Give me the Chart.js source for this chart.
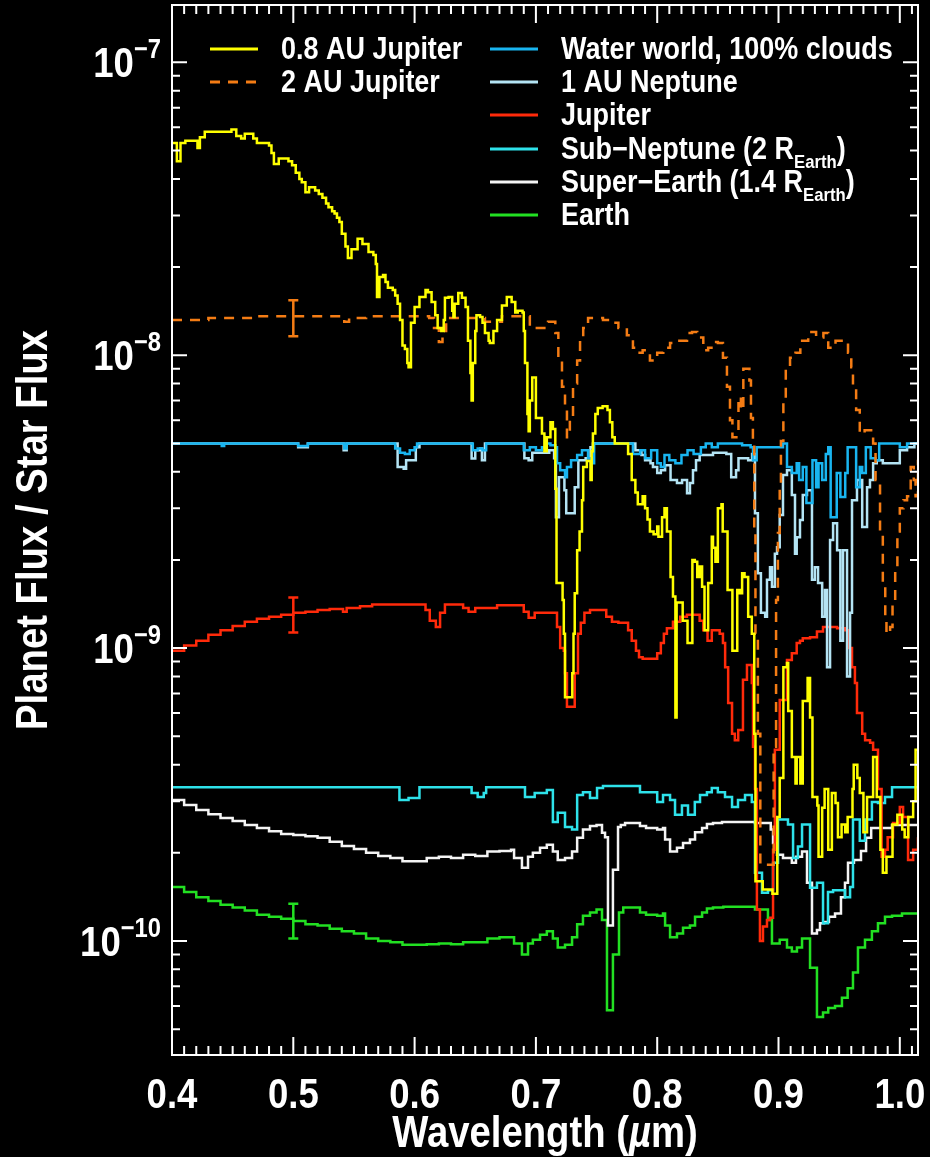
<!DOCTYPE html>
<html>
<head>
<meta charset="utf-8">
<script src="https://cdn.jsdelivr.net/npm/chart.js@4.4.1/dist/chart.umd.min.js"></script>
<style>
  html, body { margin: 0; padding: 0; background: #000; }
  canvas { display: block; }
</style>
</head>
<body>
<canvas id="spectra" width="930" height="1157"></canvas>
<script>
// [wavelength (um), planet flux / star flux]
const jupiter08 = [[0.400,5.3e-8],[0.404,4.6e-8],[0.407,5.3e-8],[0.411,5.4e-8],[0.419,5.4e-8],[0.421,5.1e-8],[0.423,5.55e-8],[0.427,5.8e-8],[0.449,5.9e-8],[0.453,5.6e-8],[0.457,5.5e-8],[0.460,5.7e-8],[0.467,5.5e-8],[0.470,5.3e-8],[0.480,5.2e-8],[0.482,4.9e-8],[0.484,4.5e-8],[0.488,4.7e-8],[0.496,4.6e-8],[0.499,4.45e-8],[0.502,4.2e-8],[0.505,4.0e-8],[0.507,3.9e-8],[0.510,3.6e-8],[0.513,3.75e-8],[0.518,3.65e-8],[0.521,3.55e-8],[0.524,3.45e-8],[0.527,3.3e-8],[0.529,3.2e-8],[0.532,3.1e-8],[0.534,3.05e-8],[0.536,2.95e-8],[0.538,2.85e-8],[0.540,2.6e-8],[0.543,2.35e-8],[0.545,2.15e-8],[0.548,2.3e-8],[0.553,2.5e-8],[0.557,2.4e-8],[0.562,2.25e-8],[0.566,2.2e-8],[0.568,2.05e-8],[0.569,1.58e-8],[0.571,1.85e-8],[0.574,1.88e-8],[0.576,1.78e-8],[0.578,1.7e-8],[0.582,1.67e-8],[0.584,1.6e-8],[0.586,1.5e-8],[0.588,1.32e-8],[0.590,1.08e-8],[0.592,1.05e-8],[0.594,9.4e-9],[0.595,9.1e-9],[0.597,1.29e-8],[0.600,1.46e-8],[0.604,1.58e-8],[0.609,1.67e-8],[0.611,1.64e-8],[0.614,1.52e-8],[0.617,1.37e-8],[0.619,1.24e-8],[0.622,1.21e-8],[0.624,1.32e-8],[0.625,1.57e-8],[0.628,1.58e-8],[0.631,1.42e-8],[0.632,1.35e-8],[0.633,1.5e-8],[0.636,1.63e-8],[0.639,1.57e-8],[0.642,1.46e-8],[0.644,1.12e-8],[0.646,8.7e-9],[0.647,7.0e-9],[0.648,9.4e-9],[0.650,1.21e-8],[0.651,1.37e-8],[0.654,1.35e-8],[0.656,1.29e-8],[0.658,1.19e-8],[0.661,1.12e-8],[0.662,1.1e-8],[0.665,1.21e-8],[0.668,1.32e-8],[0.672,1.48e-8],[0.676,1.58e-8],[0.680,1.52e-8],[0.683,1.4e-8],[0.685,1.42e-8],[0.689,1.4e-8],[0.690,1.21e-8],[0.691,9.4e-9],[0.693,6.3e-9],[0.694,5.5e-9],[0.695,7.0e-9],[0.697,8.4e-9],[0.700,6.1e-9],[0.705,5.4e-9],[0.707,4.7e-9],[0.709,5.25e-9],[0.712,5.9e-9],[0.714,5.6e-9],[0.716,3.5e-9],[0.717,1.67e-9],[0.722,1.46e-9],[0.723,1.12e-9],[0.724,6.8e-10],[0.730,8.2e-10],[0.731,1.12e-9],[0.732,1.54e-9],[0.734,2.16e-9],[0.736,2.5e-9],[0.738,3.2e-9],[0.739,4.15e-9],[0.742,4.35e-9],[0.745,3.75e-9],[0.746,4.7e-9],[0.747,5.4e-9],[0.749,6.3e-9],[0.751,6.6e-9],[0.755,6.7e-9],[0.759,6.5e-9],[0.761,5.9e-9],[0.763,5.25e-9],[0.765,5.0e-9],[0.776,4.6e-9],[0.779,3.75e-9],[0.782,3.4e-9],[0.784,3.1e-9],[0.788,3.3e-9],[0.790,3.0e-9],[0.792,2.75e-9],[0.794,2.5e-9],[0.797,2.45e-9],[0.800,2.6e-9],[0.801,2.4e-9],[0.804,2.8e-9],[0.806,3.0e-9],[0.808,2.5e-9],[0.811,1.75e-9],[0.813,1.5e-9],[0.815,5.8e-10],[0.816,1.43e-9],[0.821,1.24e-9],[0.825,1.04e-9],[0.829,2.0e-9],[0.831,1.97e-9],[0.833,1.75e-9],[0.835,1.9e-9],[0.837,1.62e-9],[0.839,1.15e-9],[0.842,1.67e-9],[0.845,2.4e-9],[0.846,2.2e-9],[0.848,1.97e-9],[0.850,3.0e-9],[0.853,3.1e-9],[0.854,2.5e-9],[0.858,1.58e-9],[0.862,9.8e-10],[0.866,1.58e-9],[0.868,1.54e-9],[0.870,1.8e-9],[0.872,1.75e-9],[0.875,1.28e-9],[0.878,1.12e-9],[0.880,5.1e-10],[0.881,1.6e-10],[0.887,1.5e-10],[0.895,1.45e-10],[0.899,2.65e-10],[0.901,3.6e-10],[0.904,8.6e-10],[0.907,8.9e-10],[0.908,6.1e-10],[0.911,4.25e-10],[0.914,3.45e-10],[0.915,4.25e-10],[0.918,3.45e-10],[0.920,6.6e-10],[0.924,7.9e-10],[0.926,5.8e-10],[0.928,3.1e-10],[0.932,2.9e-10],[0.933,1.94e-10],[0.936,2.85e-10],[0.938,3.3e-10],[0.941,2.05e-10],[0.944,3.2e-10],[0.947,2.96e-10],[0.949,2.26e-10],[0.952,2.5e-10],[0.955,2.35e-10],[0.957,2.65e-10],[0.961,3.3e-10],[0.962,4.0e-10],[0.965,3.6e-10],[0.967,3.2e-10],[0.970,2.35e-10],[0.973,3.1e-10],[0.978,4.25e-10],[0.981,3.1e-10],[0.984,2.05e-10],[0.986,1.71e-10],[0.989,1.94e-10],[0.994,2.5e-10],[0.998,2.7e-10],[1.002,2.4e-10],[1.004,2.26e-10],[1.007,2.65e-10],[1.011,3.0e-10],[1.013,4.5e-10],[1.015,4.5e-10]];

const jupiter2 = [[0.400,1.32e-8],[0.430,1.34e-8],[0.470,1.36e-8],[0.542,1.3e-8],[0.546,1.34e-8],[0.560,1.36e-8],[0.612,1.34e-8],[0.616,1.24e-8],[0.620,1.11e-8],[0.623,1.21e-8],[0.626,1.34e-8],[0.658,1.3e-8],[0.668,1.3e-8],[0.672,1.36e-8],[0.690,1.36e-8],[0.695,1.24e-8],[0.700,1.24e-8],[0.710,1.3e-8],[0.716,1.19e-8],[0.7185,9.8e-9],[0.7215,7.8e-9],[0.724,6.5e-9],[0.7256,5.25e-9],[0.728,6.1e-9],[0.7306,8.0e-9],[0.734,9.6e-9],[0.7364,1.12e-8],[0.739,1.24e-8],[0.743,1.34e-8],[0.752,1.34e-8],[0.7553,1.32e-8],[0.761,1.29e-8],[0.768,1.24e-8],[0.775,1.17e-8],[0.780,1.06e-8],[0.784,1.02e-8],[0.788,1.04e-8],[0.794,9.6e-9],[0.800,1.02e-8],[0.805,1.06e-8],[0.8106,1.1e-8],[0.8163,1.12e-8],[0.8246,1.19e-8],[0.8287,1.2e-8],[0.833,1.15e-8],[0.838,1.04e-8],[0.842,1.06e-8],[0.846,1.11e-8],[0.850,1.1e-8],[0.8542,9.8e-9],[0.8575,7.8e-9],[0.860,6.0e-9],[0.862,5.25e-9],[0.865,5.25e-9],[0.867,7.2e-9],[0.869,6.5e-9],[0.871,9.0e-9],[0.874,9.0e-9],[0.876,8.2e-9],[0.8773,6.1e-9],[0.8789,5.0e-9],[0.880,2.47e-9],[0.881,1.12e-9],[0.883,5.1e-10],[0.885,1.82e-10],[0.894,1.82e-10],[0.896,4.6e-10],[0.898,1.46e-9],[0.8995,2.47e-9],[0.901,3.5e-9],[0.902,5.1e-9],[0.904,6.9e-9],[0.906,9.1e-9],[0.9095,9.8e-9],[0.914,1.02e-8],[0.918,1.12e-8],[0.9245,1.2e-8],[0.931,1.15e-8],[0.937,1.19e-8],[0.941,1.06e-8],[0.947,1.12e-8],[0.952,1.1e-8],[0.9573,1.02e-8],[0.960,9.1e-9],[0.9614,7.8e-9],[0.964,6.5e-9],[0.967,5.4e-9],[0.971,5.55e-9],[0.9755,5.55e-9],[0.978,5.0e-9],[0.980,3.75e-9],[0.9837,2.47e-9],[0.986,1.67e-9],[0.988,1.24e-9],[0.989,1.12e-9],[0.992,1.18e-9],[0.994,1.43e-9],[0.9962,1.9e-9],[0.998,2.5e-9],[1.000,3.0e-9],[1.003,3.2e-9],[1.006,3.3e-9],[1.009,4.15e-9],[1.0115,3.75e-9],[1.013,3.3e-9],[1.015,4.4e-9]];

const waterWorld = [[0.400,5.0e-9],[0.440,5.0e-9],[0.441,4.9e-9],[0.443,5.0e-9],[0.502,5.0e-9],[0.504,4.9e-9],[0.510,4.9e-9],[0.512,5.0e-9],[0.541,5.0e-9],[0.542,4.8e-9],[0.544,5.0e-9],[0.582,5.0e-9],[0.584,4.8e-9],[0.588,4.65e-9],[0.592,4.6e-9],[0.596,4.74e-9],[0.600,4.85e-9],[0.602,5.0e-9],[0.645,5.0e-9],[0.648,4.74e-9],[0.652,4.8e-9],[0.656,4.74e-9],[0.659,5.0e-9],[0.688,5.0e-9],[0.690,4.74e-9],[0.695,4.85e-9],[0.700,4.74e-9],[0.705,4.85e-9],[0.708,5.0e-9],[0.712,4.93e-9],[0.716,4.85e-9],[0.7174,4.28e-9],[0.720,4.05e-9],[0.724,3.83e-9],[0.7256,4.15e-9],[0.729,4.38e-9],[0.734,4.56e-9],[0.738,4.74e-9],[0.743,4.45e-9],[0.746,4.28e-9],[0.748,5.0e-9],[0.777,5.0e-9],[0.780,4.6e-9],[0.786,4.74e-9],[0.790,4.45e-9],[0.795,4.74e-9],[0.800,4.28e-9],[0.803,4.15e-9],[0.806,4.56e-9],[0.810,4.38e-9],[0.815,4.28e-9],[0.820,4.56e-9],[0.825,4.74e-9],[0.830,4.6e-9],[0.836,4.85e-9],[0.840,5.0e-9],[0.845,4.85e-9],[0.850,5.0e-9],[0.870,4.93e-9],[0.877,4.85e-9],[0.879,4.38e-9],[0.882,4.85e-9],[0.9037,5.0e-9],[0.907,4.15e-9],[0.911,3.96e-9],[0.915,4.28e-9],[0.917,3.75e-9],[0.920,4.15e-9],[0.923,3.13e-9],[0.926,3.13e-9],[0.928,4.38e-9],[0.931,3.54e-9],[0.933,4.28e-9],[0.936,3.75e-9],[0.939,4.6e-9],[0.941,4.85e-9],[0.943,2.8e-9],[0.946,2.8e-9],[0.948,3.96e-9],[0.951,3.28e-9],[0.955,3.96e-9],[0.957,4.85e-9],[0.962,4.85e-9],[0.964,3.54e-9],[0.967,4.15e-9],[0.969,3.96e-9],[0.972,4.85e-9],[0.976,4.45e-9],[0.980,4.38e-9],[0.983,5.0e-9],[0.998,5.0e-9],[1.000,4.85e-9],[1.004,4.85e-9],[1.006,5.0e-9],[1.015,5.0e-9]];

const neptune1 = [[0.400,5.0e-9],[0.502,5.0e-9],[0.504,4.85e-9],[0.510,4.85e-9],[0.512,5.0e-9],[0.540,5.0e-9],[0.5415,4.74e-9],[0.544,5.0e-9],[0.584,5.0e-9],[0.586,4.15e-9],[0.591,4.1e-9],[0.593,4.38e-9],[0.599,4.38e-9],[0.601,4.85e-9],[0.604,5.0e-9],[0.645,5.0e-9],[0.647,4.44e-9],[0.650,4.74e-9],[0.654,4.8e-9],[0.6555,4.38e-9],[0.658,5.0e-9],[0.689,5.0e-9],[0.6905,4.45e-9],[0.694,4.38e-9],[0.697,4.65e-9],[0.711,4.74e-9],[0.715,4.45e-9],[0.7165,2.8e-9],[0.719,3.83e-9],[0.7235,3.46e-9],[0.725,2.89e-9],[0.730,2.89e-9],[0.732,3.54e-9],[0.735,4.38e-9],[0.741,4.45e-9],[0.745,4.85e-9],[0.747,5.0e-9],[0.778,5.0e-9],[0.782,4.74e-9],[0.787,4.56e-9],[0.790,4.38e-9],[0.7945,4.28e-9],[0.7965,4.15e-9],[0.800,3.96e-9],[0.803,4.05e-9],[0.8065,4.21e-9],[0.811,3.75e-9],[0.8163,3.66e-9],[0.8205,3.75e-9],[0.8246,3.38e-9],[0.827,3.66e-9],[0.8295,4.05e-9],[0.832,4.38e-9],[0.835,4.56e-9],[0.846,4.65e-9],[0.857,4.6e-9],[0.861,3.83e-9],[0.865,4.05e-9],[0.867,4.45e-9],[0.875,4.38e-9],[0.8782,4.6e-9],[0.8806,2.89e-9],[0.883,1.8e-9],[0.8855,1.32e-9],[0.889,1.28e-9],[0.8905,1.71e-9],[0.893,1.89e-9],[0.8946,1.62e-9],[0.897,2.1e-9],[0.8988,2.21e-9],[0.901,2.85e-9],[0.9037,3.9e-9],[0.907,4.05e-9],[0.911,3.33e-9],[0.9136,2.1e-9],[0.915,2.39e-9],[0.9177,2.74e-9],[0.920,3.33e-9],[0.9235,3.46e-9],[0.9276,1.71e-9],[0.930,1.89e-9],[0.9326,1.67e-9],[0.936,1.28e-9],[0.9383,1.58e-9],[0.940,8.6e-10],[0.9425,2.34e-9],[0.945,2.67e-9],[0.9483,2.16e-9],[0.951,1.06e-9],[0.9532,2.16e-9],[0.9565,8.0e-10],[0.959,1.32e-9],[0.9606,3.2e-9],[0.9647,3.75e-9],[0.969,2.59e-9],[0.973,3.54e-9],[0.9754,3.75e-9],[0.978,4.28e-9],[0.981,4.38e-9],[0.986,4.28e-9],[0.992,4.28e-9],[1.000,4.74e-9],[1.006,4.85e-9],[1.012,5.0e-9],[1.015,5.0e-9]];

const jupiter = [[0.400,9.8e-10],[0.410,1.02e-9],[0.420,1.06e-9],[0.430,1.11e-9],[0.440,1.15e-9],[0.450,1.19e-9],[0.460,1.23e-9],[0.470,1.26e-9],[0.480,1.28e-9],[0.490,1.3e-9],[0.500,1.32e-9],[0.510,1.33e-9],[0.520,1.35e-9],[0.530,1.36e-9],[0.541,1.33e-9],[0.544,1.37e-9],[0.555,1.39e-9],[0.565,1.41e-9],[0.603,1.41e-9],[0.609,1.35e-9],[0.6125,1.24e-9],[0.6175,1.18e-9],[0.621,1.32e-9],[0.625,1.41e-9],[0.6365,1.41e-9],[0.640,1.37e-9],[0.6445,1.33e-9],[0.650,1.37e-9],[0.6625,1.37e-9],[0.668,1.4e-9],[0.6815,1.4e-9],[0.690,1.33e-9],[0.694,1.27e-9],[0.699,1.32e-9],[0.716,1.32e-9],[0.7174,1.18e-9],[0.720,1.0e-9],[0.723,9.8e-10],[0.724,8.2e-10],[0.7256,6.3e-10],[0.729,6.3e-10],[0.732,8.2e-10],[0.7347,1.12e-9],[0.737,1.22e-9],[0.740,1.32e-9],[0.7446,1.35e-9],[0.7553,1.35e-9],[0.758,1.28e-9],[0.7627,1.23e-9],[0.768,1.22e-9],[0.776,1.15e-9],[0.779,1.06e-9],[0.7825,9.8e-10],[0.785,9.3e-10],[0.788,9.2e-10],[0.796,9.2e-10],[0.800,9.6e-10],[0.803,1.04e-9],[0.8055,1.12e-9],[0.808,1.17e-9],[0.813,1.23e-9],[0.819,1.28e-9],[0.8245,1.3e-9],[0.833,1.3e-9],[0.835,1.24e-9],[0.838,1.15e-9],[0.8415,1.06e-9],[0.845,1.15e-9],[0.8515,1.12e-9],[0.8542,1.04e-9],[0.856,8.6e-10],[0.8585,6.5e-10],[0.8617,5.1e-10],[0.864,4.85e-10],[0.8668,5.25e-10],[0.8707,7.8e-10],[0.874,8.75e-10],[0.8765,8.75e-10],[0.878,7.6e-10],[0.879,4.6e-10],[0.8806,3.3e-10],[0.8822,1.28e-10],[0.8847,1.0e-10],[0.8872,1.12e-10],[0.8905,1.18e-10],[0.893,1.2e-10],[0.8955,2.05e-10],[0.897,4.5e-10],[0.901,6.65e-10],[0.907,9.1e-10],[0.911,9.6e-10],[0.915,1.04e-9],[0.9177,1.06e-9],[0.920,1.08e-9],[0.926,1.09e-9],[0.9317,1.14e-9],[0.9367,1.18e-9],[0.9483,1.17e-9],[0.955,1.15e-9],[0.9573,1.0e-9],[0.9606,8.6e-10],[0.963,7.6e-10],[0.9647,6.0e-10],[0.969,5.1e-10],[0.9714,4.85e-10],[0.9755,4.75e-10],[0.978,4.5e-10],[0.982,3.3e-10],[0.985,1.94e-10],[0.9878,2.05e-10],[0.990,2.26e-10],[0.9944,2.53e-10],[1.000,2.87e-10],[1.0027,2.65e-10],[1.0068,1.89e-10],[1.011,2.05e-10],[1.015,2.26e-10]];

const subNeptune = [[0.400,3.35e-10],[0.5865,3.35e-10],[0.5875,3.03e-10],[0.595,3.08e-10],[0.602,3.08e-10],[0.604,3.35e-10],[0.646,3.35e-10],[0.647,3.2e-10],[0.652,3.1e-10],[0.657,3.2e-10],[0.659,3.35e-10],[0.690,3.35e-10],[0.691,3.1e-10],[0.699,3.2e-10],[0.7034,3.2e-10],[0.709,3.28e-10],[0.714,2.55e-10],[0.718,2.74e-10],[0.724,2.45e-10],[0.7298,2.4e-10],[0.734,3.15e-10],[0.7388,3.22e-10],[0.7446,3.08e-10],[0.7504,3.33e-10],[0.7553,3.38e-10],[0.7858,3.22e-10],[0.800,2.98e-10],[0.8048,3.15e-10],[0.8106,3.03e-10],[0.8147,2.7e-10],[0.8204,2.9e-10],[0.8254,2.7e-10],[0.831,2.98e-10],[0.8353,3.15e-10],[0.841,3.22e-10],[0.845,3.33e-10],[0.850,3.22e-10],[0.8559,3.1e-10],[0.8617,2.87e-10],[0.8666,3.03e-10],[0.8724,3.15e-10],[0.878,2.98e-10],[0.8806,1.71e-10],[0.8864,1.46e-10],[0.8913,1.49e-10],[0.8955,1.85e-10],[0.8996,2.6e-10],[0.9078,2.5e-10],[0.912,1.92e-10],[0.916,2.1e-10],[0.9194,2.5e-10],[0.926,1.52e-10],[0.9317,1.58e-10],[0.9367,1.15e-10],[0.9408,1.47e-10],[0.945,1.49e-10],[0.9548,1.41e-10],[0.959,1.53e-10],[0.9614,2.6e-10],[0.967,2.2e-10],[0.9713,2.6e-10],[0.977,2.98e-10],[0.982,2.96e-10],[0.9878,3.1e-10],[0.9936,3.35e-10],[1.015,3.35e-10]];

const superEarth = [[0.400,3.03e-10],[0.410,2.91e-10],[0.420,2.8e-10],[0.430,2.71e-10],[0.440,2.63e-10],[0.450,2.57e-10],[0.460,2.49e-10],[0.470,2.43e-10],[0.480,2.37e-10],[0.490,2.32e-10],[0.500,2.3e-10],[0.510,2.28e-10],[0.520,2.25e-10],[0.530,2.18e-10],[0.540,2.11e-10],[0.550,2.06e-10],[0.560,2.0e-10],[0.570,1.95e-10],[0.580,1.92e-10],[0.590,1.87e-10],[0.600,1.87e-10],[0.610,1.92e-10],[0.620,1.94e-10],[0.630,1.92e-10],[0.640,1.97e-10],[0.650,1.95e-10],[0.660,2.02e-10],[0.670,2.03e-10],[0.6795,2.05e-10],[0.682,1.92e-10],[0.6885,1.78e-10],[0.6935,1.94e-10],[0.6975,2.0e-10],[0.7034,2.08e-10],[0.709,2.13e-10],[0.714,2.02e-10],[0.718,1.89e-10],[0.724,1.92e-10],[0.7298,2.02e-10],[0.734,2.25e-10],[0.7388,2.4e-10],[0.7446,2.47e-10],[0.750,2.49e-10],[0.7545,2.34e-10],[0.757,2.26e-10],[0.7594,1.13e-10],[0.7635,1.75e-10],[0.7677,2.45e-10],[0.770,2.49e-10],[0.7735,2.53e-10],[0.7858,2.47e-10],[0.7908,2.43e-10],[0.800,2.4e-10],[0.8048,2.43e-10],[0.8065,2.22e-10],[0.8106,2.02e-10],[0.8163,2.08e-10],[0.8213,2.16e-10],[0.827,2.22e-10],[0.8312,2.35e-10],[0.837,2.43e-10],[0.841,2.51e-10],[0.846,2.53e-10],[0.8534,2.55e-10],[0.8806,2.53e-10],[0.8936,2.4e-10],[0.8955,2.16e-10],[0.8988,1.97e-10],[0.9037,1.92e-10],[0.911,1.85e-10],[0.9144,1.94e-10],[0.9194,2.02e-10],[0.9235,1.58e-10],[0.9276,1.06e-10],[0.9317,1.09e-10],[0.9342,1.15e-10],[0.9375,1.16e-10],[0.9416,1.21e-10],[0.9466,1.24e-10],[0.9515,1.41e-10],[0.9548,1.58e-10],[0.9573,1.85e-10],[0.9622,1.89e-10],[0.968,2.03e-10],[0.9722,2.25e-10],[0.9764,2.43e-10],[0.9903,2.43e-10],[0.9936,2.49e-10],[1.015,2.49e-10]];

const earth = [[0.400,1.53e-10],[0.410,1.47e-10],[0.420,1.41e-10],[0.430,1.37e-10],[0.440,1.33e-10],[0.450,1.3e-10],[0.460,1.27e-10],[0.470,1.23e-10],[0.480,1.21e-10],[0.490,1.19e-10],[0.500,1.17e-10],[0.510,1.14e-10],[0.520,1.13e-10],[0.530,1.1e-10],[0.540,1.08e-10],[0.550,1.06e-10],[0.560,1.02e-10],[0.570,1.0e-10],[0.580,9.9e-11],[0.590,9.7e-11],[0.600,9.7e-11],[0.610,9.75e-11],[0.620,9.8e-11],[0.630,9.75e-11],[0.640,9.9e-11],[0.650,9.9e-11],[0.660,1.02e-10],[0.670,1.03e-10],[0.6795,1.03e-10],[0.682,9.8e-11],[0.6885,9.0e-11],[0.6935,9.8e-11],[0.6975,1.01e-10],[0.7034,1.05e-10],[0.709,1.08e-10],[0.714,1.02e-10],[0.718,9.5e-11],[0.724,9.7e-11],[0.7298,1.03e-10],[0.734,1.14e-10],[0.7388,1.22e-10],[0.7446,1.25e-10],[0.750,1.28e-10],[0.7545,1.18e-10],[0.7586,5.8e-11],[0.7635,9.0e-11],[0.7685,1.25e-10],[0.772,1.3e-10],[0.7858,1.25e-10],[0.7908,1.23e-10],[0.800,1.22e-10],[0.8048,1.24e-10],[0.8065,1.13e-10],[0.8106,1.03e-10],[0.8163,1.06e-10],[0.8213,1.11e-10],[0.827,1.13e-10],[0.8312,1.21e-10],[0.837,1.25e-10],[0.841,1.29e-10],[0.846,1.3e-10],[0.8545,1.31e-10],[0.8806,1.28e-10],[0.8913,1.18e-10],[0.8946,9.8e-11],[0.901,1.01e-10],[0.907,9.5e-11],[0.911,9.2e-11],[0.9152,9.5e-11],[0.9194,1.02e-10],[0.926,8.1e-11],[0.9317,5.5e-11],[0.9367,5.7e-11],[0.941,5.9e-11],[0.9466,6.0e-11],[0.9523,6.4e-11],[0.957,6.9e-11],[0.9614,7.8e-11],[0.9655,9.5e-11],[0.9713,1.01e-10],[0.977,1.08e-10],[0.982,1.15e-10],[0.9878,1.21e-10],[0.9936,1.22e-10],[1.0018,1.24e-10],[1.015,1.24e-10]];

const seriesLabels = ['0.8 AU Jupiter', '2 AU Jupiter', 'Water world, 100% clouds', '1 AU Neptune', 'Jupiter',
    'Sub\u2212Neptune (2 R_{Earth})', 'Super\u2212Earth (1.4 R_{Earth})', 'Earth'];
const seriesData = [jupiter08, jupiter2, waterWorld, neptune1, jupiter, subNeptune, superEarth, earth];
const seriesColors = ['#ffff00', '#f47c14', '#19b5f0', '#b4e4f4', '#ff2a0a', '#2ee2ea', '#f4f4f4', '#22e022'];

// error bars at 0.5 um on 2 AU Jupiter, Jupiter and Earth
const errWave = 0.5;
const errSeries = [1, 4, 7];
const errLow = [1.16e-8, 1.13e-9, 1.02e-10];
const errHigh = [1.54e-8, 1.49e-9, 1.34e-10];

const xMajorTicks = [0.4, 0.5, 0.6, 0.7, 0.8, 0.9, 1.0];
const xTickLabels = ['0.4', '0.5', '0.6', '0.7', '0.8', '0.9', '1.0'];
const yDecades = [1e-7, 1e-8, 1e-9, 1e-10];
const yTickLabels = ['10^{\u22127}', '10^{\u22128}', '10^{\u22129}', '10^{\u221210}'];

const FONT = '"Liberation Sans", Arial, Helvetica, sans-serif';
const SQUEEZE = 0.87; // the original lettering is a condensed bold face

// "_{..}" subscript, "^{..}" superscript, "~{..}" italic
function richParts(text, size) {
    const parts = [];
    text.split(/(_\{[^}]*\}|\^\{[^}]*\}|~\{[^}]*\})/).forEach(function (p) {
        if (!p) return;
        if (p[0] === '_' && p[1] === '{') parts.push({t: p.slice(2, -1), size: size * 0.62, dy: size * 0.28, style: 'bold '});
        else if (p[0] === '^' && p[1] === '{') parts.push({t: p.slice(2, -1), size: size * 0.65, dy: -size * 0.45, style: 'bold '});
        else if (p[0] === '~' && p[1] === '{') parts.push({t: p.slice(2, -1), size: size, dy: 0, style: 'italic bold '});
        else parts.push({t: p, size: size, dy: 0, style: 'bold '});
    });
    return parts;
}

function drawRich(ctx, text, x, y, size, align) {
    const parts = richParts(text, size);
    let w = 0;
    parts.forEach(function (p) {
        ctx.font = p.style + p.size + 'px ' + FONT;
        p.w = ctx.measureText(p.t).width * SQUEEZE;
        w += p.w;
    });
    let cx = align === 'right' ? x - w : (align === 'center' ? x - w / 2 : x);
    ctx.textAlign = 'left';
    ctx.textBaseline = 'alphabetic';
    parts.forEach(function (p) {
        ctx.font = p.style + p.size + 'px ' + FONT;
        ctx.save();
        ctx.translate(cx, y + p.dy);
        ctx.scale(SQUEEZE, 1);
        ctx.fillText(p.t, 0, 0);
        ctx.restore();
        cx += p.w;
    });
}

const framePlugin = {
    id: 'frame',
    beforeDraw(chart) {
        const ctx = chart.ctx;
        ctx.save();
        ctx.fillStyle = '#000';
        ctx.fillRect(0, 0, chart.width, chart.height);
        ctx.restore();
    },
    afterDatasetsDraw(chart) {
        const ctx = chart.ctx;
        const xs = chart.scales.x;
        const ys = chart.scales.y;
        const a = chart.chartArea;
        ctx.save();

        // error bars
        ctx.lineWidth = 2.5;
        errSeries.forEach(function (s, i) {
            const px = xs.getPixelForValue(errWave);
            const y1 = ys.getPixelForValue(errLow[i]);
            const y2 = ys.getPixelForValue(errHigh[i]);
            ctx.strokeStyle = seriesColors[s];
            ctx.beginPath();
            ctx.moveTo(px, y1); ctx.lineTo(px, y2);
            ctx.moveTo(px - 5, y1); ctx.lineTo(px + 5, y1);
            ctx.moveTo(px - 5, y2); ctx.lineTo(px + 5, y2);
            ctx.stroke();
        });

        // box and inward ticks
        ctx.strokeStyle = '#fff';
        ctx.lineWidth = 2;
        ctx.strokeRect(a.left, a.top, a.right - a.left, a.bottom - a.top);
        ctx.beginPath();
        for (let i = 0; i <= 61; i++) {
            const px = xs.getPixelForValue(0.4 + i / 100);
            const len = i % 10 === 0 ? 18 : 9;
            ctx.moveTo(px, a.bottom); ctx.lineTo(px, a.bottom - len);
            ctx.moveTo(px, a.top); ctx.lineTo(px, a.top + len);
        }
        for (let n = -11; n <= -7; n++) {
            for (let k = 1; k <= 9; k++) {
                const v = k * Math.pow(10, n);
                if (v < ys.min || v > ys.max) continue;
                const py = ys.getPixelForValue(v);
                const len = k === 1 ? 15 : 8;
                ctx.moveTo(a.left, py); ctx.lineTo(a.left + len, py);
                ctx.moveTo(a.right, py); ctx.lineTo(a.right - len, py);
            }
        }
        ctx.stroke();

        // tick labels and titles
        ctx.fillStyle = '#fff';
        xMajorTicks.forEach(function (v, i) {
            drawRich(ctx, xTickLabels[i], xs.getPixelForValue(v), 1108, 42, 'center');
        });
        yDecades.forEach(function (v, i) {
            drawRich(ctx, yTickLabels[i], 161, ys.getPixelForValue(v) + 15, 42, 'right');
        });
        drawRich(ctx, 'Wavelength (~{\u00b5}m)', (a.left + a.right) / 2, 1147, 44, 'center');
        ctx.save();
        ctx.translate(47, (a.top + a.bottom) / 2);
        ctx.rotate(-Math.PI / 2);
        drawRich(ctx, 'Planet Flux / Star Flux', 0, 0, 44, 'center');
        ctx.restore();

        // legend: two columns
        const slots = [[210, 47], [210, 80], [490, 47], [490, 80], [490, 113], [490, 147], [490, 180], [490, 213]];
        seriesLabels.forEach(function (label, i) {
            const sx = slots[i][0], sy = slots[i][1];
            ctx.strokeStyle = seriesColors[i];
            ctx.lineWidth = 3;
            ctx.setLineDash(i === 1 ? [10, 8] : []);
            ctx.beginPath();
            ctx.moveTo(sx, sy + 2); ctx.lineTo(sx + 48, sy + 2);
            ctx.stroke();
            ctx.setLineDash([]);
            ctx.fillStyle = '#fff';
            drawRich(ctx, label, sx + 71, sy + 12, 31, 'left');
        });
        ctx.restore();
    }
};

const datasets = seriesData.map(function (pts, i) {
    return {
        label: seriesLabels[i],
        data: pts.map(function (p) { return {x: p[0], y: p[1]}; }),
        borderColor: seriesColors[i],
        borderWidth: 2.5,
        borderDash: i === 1 ? [10, 8] : [],
        pointRadius: 0,
        fill: false,
        stepped: true
    };
});

new Chart(document.getElementById('spectra').getContext('2d'), {
    type: 'line',
    data: {datasets: datasets},
    options: {
        responsive: false,
        animation: false,
        events: [],
        layout: {padding: {left: 172, right: 12, top: 5, bottom: 102}},
        plugins: {legend: {display: false}, tooltip: {enabled: false}},
        scales: {
            x: {type: 'linear', min: 0.4, max: 1.015, display: false},
            y: {type: 'logarithmic', min: 4.08e-11, max: 1.57e-7, display: false}
        }
    },
    plugins: [framePlugin]
});
</script>
</body>
</html>
